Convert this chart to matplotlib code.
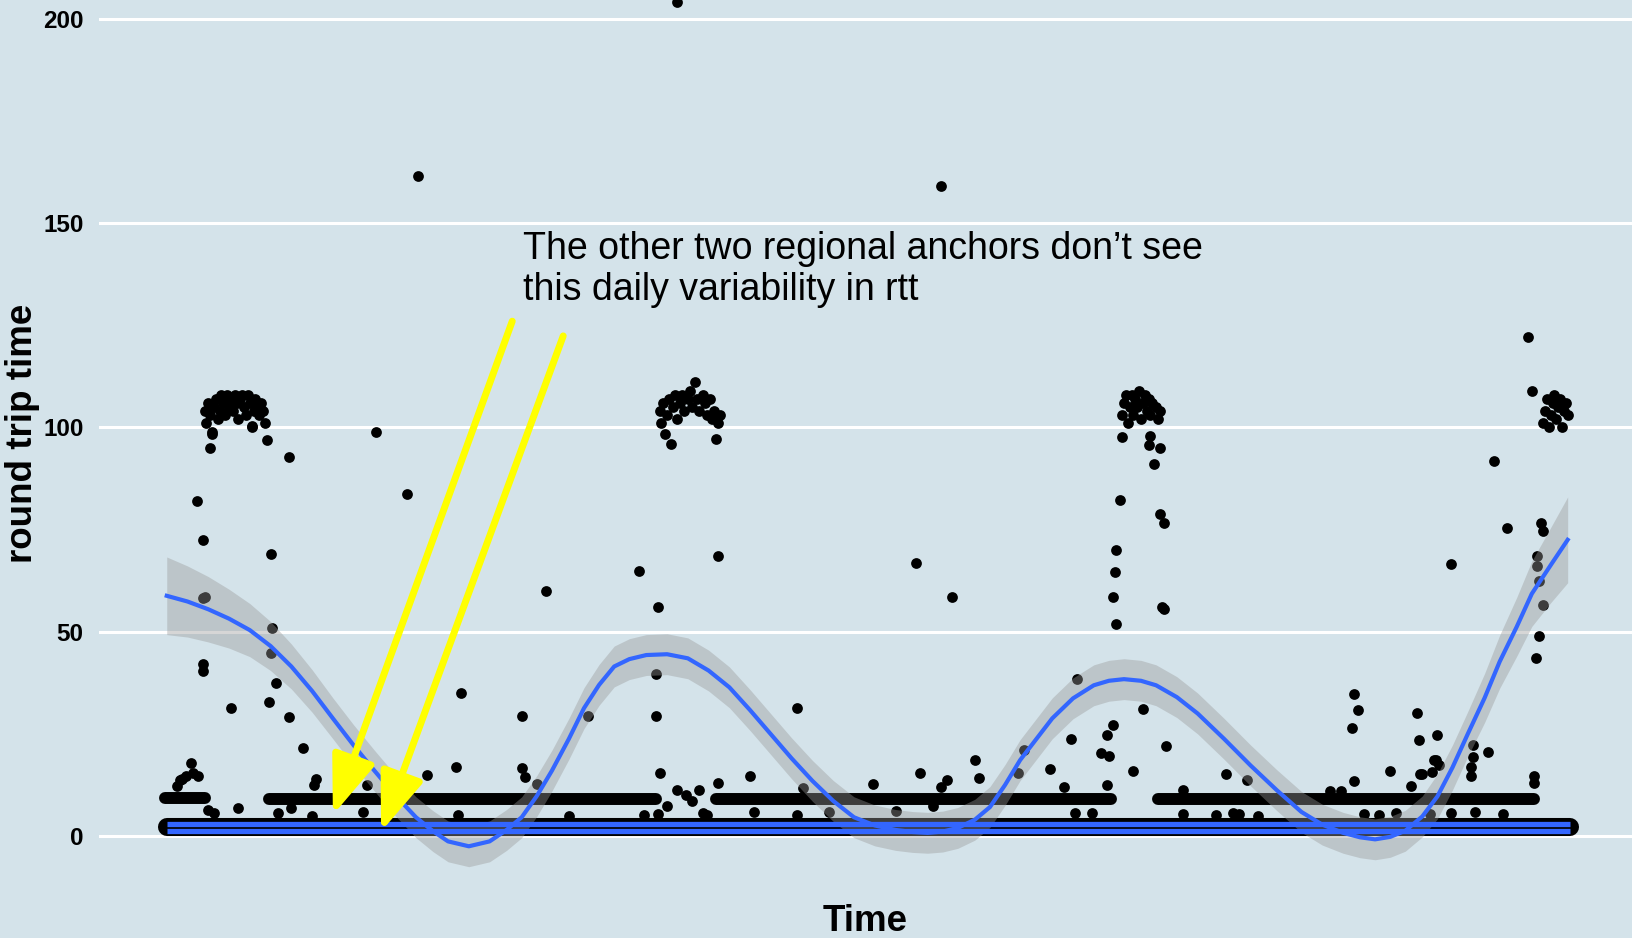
import matplotlib
matplotlib.use("Agg")
import matplotlib.pyplot as plt

plt.rcParams['font.family'] = ['Liberation Sans', 'DejaVu Sans']

# smooth fit (hours since start, rtt in ms) and half width of the band
smooth_t = [0, 1.1, 2.2, 3.3, 4.4, 5.5, 6.6, 7.7, 8.8, 9.9, 11, 12.1, 13.2, 14.1, 14.9,
            16, 17.1, 18, 18.8, 19.6, 20.4, 21.3, 22.1, 22.9, 23.7, 24.5, 25.4, 26.5, 27.6,
            28.7, 29.8, 30.9, 32, 33.1, 34.2, 35.3, 36.4, 37.5, 38.6, 39.5, 40.3, 41.1, 41.9,
            42.8, 43.6, 44.4, 45.2, 46.1, 46.9, 48.0, 49.1, 49.9, 50.7, 51.6, 52.4, 53.5, 54.6,
            56.0, 57.4, 58.8, 60.1, 61.2, 62.3, 63.2, 64, 64.8, 65.6, 66.5, 67.3, 68.1, 68.9,
            69.8, 70.6, 71.5, 72.3, 73.3, 74.2]
smooth_rtt = [58.8, 57.4, 55.5, 53.2, 50.4, 46.5, 41.5, 35.5, 28.8, 22.2, 16.0, 10.0, 4.6, 1.2, -1.3,
              -2.5, -1.3, 1.5, 4.6, 9.8, 16.0, 23.8, 31.3, 37.0, 41.5, 43.3, 44.3, 44.5, 43.5,
              40.5, 36.4, 30.8, 24.9, 19.0, 13.5, 8.6, 4.6, 2.6, 1.5, 1.0, 0.8, 1.1, 2.0,
              4.0, 7.1, 12.5, 18.6, 24.0, 28.8, 33.7, 36.9, 38.0, 38.4, 38.0, 36.9, 34.0, 30.0,
              23.8, 17.3, 11.2, 5.9, 2.8, 0.8, -0.3, -0.8, -0.2, 1.3, 4.8, 9.7, 16.8, 24.9,
              33.8, 42.7, 51.2, 59.3, 66.3, 72.5]
smooth_se = [9.5, 8.7, 8.0, 7.2, 6.5, 6.0, 5.5, 5.2, 5.0, 5.0, 5.0, 5.0, 5.0, 5.0, 5.0,
             5.0, 5.0, 5.0, 5.0, 5.0, 5.0, 5.0, 5.0, 5.0, 5.0, 5.0, 5.0, 5.0, 5.0,
             5.0, 5.0, 5.0, 5.0, 5.0, 5.0, 5.0, 5.0, 5.0, 5.0, 5.0, 5.0, 5.0, 5.0,
             5.0, 5.0, 5.0, 5.0, 5.0, 5.0, 5.0, 5.0, 5.0, 5.0, 5.0, 5.0, 5.0, 5.0,
             5.0, 5.0, 5.0, 5.0, 5.0, 5.0, 5.0, 5.0, 5.0, 5.0, 5.0, 5.5, 5.5, 5.5,
             6.0, 6.5, 7.2, 8.0, 9.2, 10.5]

# dense runs of samples around 9 ms
run_start = [-0.1, 5.4, 29.1, 52.5]
run_end = [2.0, 25.9, 50.0, 72.4]
run_level = [9.3, 9.0, 9.0, 9.0]

# dense floor of samples and the two other anchors' fits
floor_start, floor_end, floor_level = 0.0, 74.3, 2.2
other_t = [0.0, 74.3]
other_a = [2.95, 2.95]
other_b = [1.2, 1.2]

# daily spikes around 105 ms
spike_t = [2.0, 2.1, 2.2, 2.3, 2.4, 2.5, 2.6, 2.7, 2.8, 2.9, 3.0, 3.1, 3.2, 3.3, 3.4, 3.5,
           3.6, 3.7, 3.8, 3.9, 4.0, 4.1, 4.2, 4.3, 4.4, 4.5, 4.6, 4.7, 4.8, 4.9, 5.0, 5.1, 5.2,
           26.1, 26.2, 26.3, 26.5, 26.6, 26.8, 26.9, 27.0, 27.2, 27.3, 27.4, 27.6, 27.7, 27.8,
           28.0, 28.1, 28.2, 28.4, 28.5, 28.6, 28.8, 28.9, 29.0, 29.2, 29.3,
           50.6, 50.7, 50.8, 50.9, 51.0, 51.1, 51.2, 51.3, 51.4, 51.5, 51.6, 51.7, 51.8, 51.9,
           52.0, 52.1, 52.2, 52.4, 52.5, 52.6,
           72.9, 73.0, 73.1, 73.2, 73.3, 73.4, 73.5, 73.6, 73.7, 73.8, 73.9, 74.0, 74.1, 74.2]
spike_rtt = [104, 101, 106, 103, 99, 105, 107, 102, 104, 108, 106, 103, 108, 105, 107, 104,
             108, 106, 102, 107, 108, 105, 103, 108, 106, 100, 104, 107, 105, 103, 106, 104, 101,
             104, 101, 106, 103, 107, 105, 108, 102, 106, 108, 104, 107, 109, 105,
             111, 107, 104, 108, 106, 103, 107, 102, 104, 101, 103,
             103, 106, 108, 101, 105, 108, 103, 107, 105, 109, 102, 106, 108, 104,
             107, 103, 106, 105, 102, 104,
             101, 104, 107, 100, 103, 106, 108, 102, 105, 107, 100, 104, 106, 103]

# scattered samples
scat_t = [0.55, 0.7, 0.83, 1.0, 1.3, 1.4, 1.65, 2.2, 2.5, 3.8, 5.9, 6.6, 7.8, 7.9, 3.4, 5.4,
          5.8, 6.5, 7.2, 1.9, 2.0, 1.9, 1.9, 1.6, 1.9, 5.5, 5.6, 5.5, 2.4, 2.3, 4.5, 5.3, 6.5,
          11.1, 12.7,
          10.6, 10.4, 7.7, 13.8, 15.3, 15.4, 15.6, 18.8, 18.8, 19.0, 19.6, 20.1, 21.3, 22.3,
          25.0, 26.0, 25.9, 25.9, 26.1, 25.3, 26.0, 26.5, 27.0, 27.5, 28.2, 27.8, 28.4, 28.6,
          29.2, 29.2, 30.9, 31.1, 33.4, 33.7, 33.4, 35.1, 13.3, 27.0, 26.4, 26.7, 29.1,
          37.4, 39.9, 41.0, 41.3, 40.6, 38.6, 42.8, 43.0, 45.4, 45.1, 46.8, 47.9, 47.5, 50.1,
          49.8, 49.5, 49.9, 49.8, 51.7, 51.2, 52.9, 48.2, 53.8, 56.1, 57.2, 48.1, 49.0, 53.8,
          55.6, 56.5, 56.8, 57.8, 39.7, 41.6, 41.0,
          50.6, 52.1, 52.0, 52.6, 52.3, 50.5, 52.6, 52.8, 50.3, 50.2, 50.1, 52.7, 52.8, 50.3,
          62.9, 63.1, 62.8, 62.9, 66.2, 66.3, 67.3, 64.8, 66.4, 67.2, 67.1, 67.4, 66.5, 67.0,
          69.2, 69.2, 70.0, 69.1, 69.1, 72.4, 72.4, 65.9, 61.6, 62.2, 63.4, 64.2, 65.1, 66.9,
          68.0, 69.3, 70.8, 68.0, 70.3, 71.0, 72.8, 72.9, 72.6, 72.6, 72.7, 72.9, 72.7, 72.5,
          72.1, 72.3]
scat_rtt = [12.2, 13.7, 14.0, 14.8, 17.9, 15.5, 14.8, 6.4, 5.7, 6.9, 5.7, 6.9, 12.5, 14.0, 31.3, 32.8,
            37.4, 29.2, 21.6, 58.2, 58.5, 42.0, 40.5, 82.1, 72.4, 69.0, 51.0, 44.8, 98.3, 94.9, 100.3, 97.0, 92.7,
            99.0, 83.6,
            12.5, 6.0, 5.0, 15.0, 16.9, 5.2, 35.1, 29.4, 16.7, 14.5, 12.8, 60.0, 4.8, 29.3,
            64.9, 56.0, 39.7, 29.3, 15.5, 5.2, 5.5, 7.3, 11.3, 10.0, 11.3, 8.5, 5.7, 5.2,
            13.0, 68.5, 14.6, 6.0, 31.3, 11.8, 5.2, 5.8, 161.6, 204.0, 98.3, 96.0, 97.1,
            12.8, 15.4, 12.0, 13.6, 7.4, 6.1, 18.7, 14.2, 21.1, 15.5, 16.4, 23.7, 12.0, 27.2,
            24.8, 20.3, 19.6, 12.5, 31.0, 16.0, 22.1, 38.5, 11.3, 15.3, 13.7, 5.6, 5.6, 5.5,
            5.2, 5.6, 5.3, 5.0, 66.9, 58.5, 159.0,
            97.6, 98.0, 95.6, 95.0, 91.1, 82.3, 78.9, 76.6, 70.0, 64.7, 58.4, 56.1, 55.5, 52.0,
            34.8, 30.9, 26.5, 13.4, 30.0, 23.4, 24.8, 16.0, 15.2, 18.7, 18.6, 17.3, 15.3, 15.8,
            22.3, 19.3, 20.5, 16.8, 14.8, 14.8, 13.0, 12.2, 11.0, 11.0, 5.5, 5.2, 5.6, 5.4,
            5.6, 6.0, 5.5, 66.7, 91.9, 75.4, 76.5, 74.7, 68.5, 66.1, 62.4, 56.5, 48.9, 43.5,
            122.2, 108.9]

bg = '#d4e3ea'
fig = plt.figure(figsize=(16.33, 9.38), dpi=100)
fig.patch.set_facecolor(bg)
ax = fig.add_axes([0.0606, 0.0455, 0.9394, 0.9545])
ax.set_facecolor(bg)

ax.plot([floor_start, floor_end], [floor_level, floor_level], color='black', lw=13,
        solid_capstyle='round', zorder=2)
for s, e, lv in zip(run_start, run_end, run_level):
    ax.plot([s, e], [lv, lv], color='black', lw=8.6, solid_capstyle='round', zorder=2)
ax.scatter(spike_t, spike_rtt, s=60, color='black', linewidths=0, zorder=2)
ax.scatter(scat_t, scat_rtt, s=60, color='black', linewidths=0, zorder=2)

lower = [m - s for m, s in zip(smooth_rtt, smooth_se)]
upper = [m + s for m, s in zip(smooth_rtt, smooth_se)]
ax.fill_between(smooth_t, lower, upper, color='#999999', alpha=0.4, linewidth=0, zorder=3)

ax.plot(other_t, other_a, color='#3366FF', lw=3.8, solid_capstyle='butt', zorder=4)
ax.plot(other_t, other_b, color='#3366FF', lw=3.8, solid_capstyle='butt', zorder=4)
ax.plot(smooth_t, smooth_rtt, color='#3366FF', lw=3, zorder=4)

arrow = dict(arrowstyle='-|>,head_length=1.2,head_width=0.45', color='#ffff00', lw=5,
             mutation_scale=30, shrinkA=0, shrinkB=0)
ax.annotate('', xy=(8.8, 5.2), xytext=(18.3, 126), arrowprops=arrow, zorder=5)
ax.annotate('', xy=(11.35, 1.1), xytext=(21.0, 122.4), arrowprops=arrow, zorder=5)
ax.text(18.86, 138.6, "The other two regional anchors don\u2019t see\nthis daily variability in rtt",
        fontsize=27, va='center', ha='left', linespacing=1.2, zorder=6)

ax.set_xlim(-3.59, 77.66)
ax.set_ylim(-14.5, 204.6)
ax.set_yticks([0, 50, 100, 150, 200])
ax.set_xticks([])
ax.grid(True, axis='y', color='white', lw=2.2)
ax.set_axisbelow(True)
for sp in ax.spines.values():
    sp.set_visible(False)
ax.tick_params(axis='y', length=0, pad=11, labelsize=17.5)
for lab in ax.get_yticklabels():
    lab.set_fontweight('bold')

fig.text(0.014, 0.538, 'round trip time', rotation=90, fontsize=26.5, fontweight='bold',
         ha='center', va='center')
fig.text(0.53, 0.018, 'Time', fontsize=26.5, fontweight='bold', ha='center', va='center')

plt.savefig('out.png', dpi=100, facecolor=bg)
